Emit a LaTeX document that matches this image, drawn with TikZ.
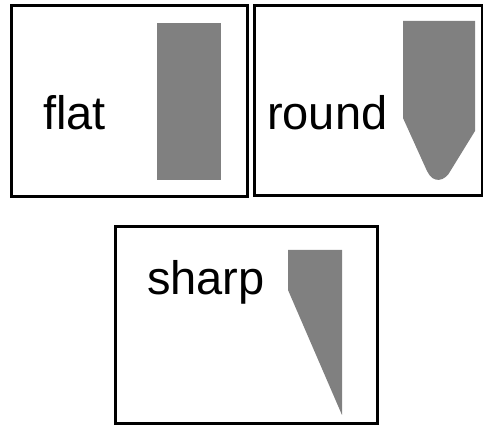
\documentclass[tikz,border=0pt]{standalone}
\usepackage{fontspec}
\setmainfont{Liberation Sans}
\usetikzlibrary{positioning}
\definecolor{tipgrey}{HTML}{808080}
\tikzset{
  panel/.style={draw=black, line width=2.6pt},
  tiplabel/.style={anchor=base west, inner sep=0pt, font=\fontsize{47}{50}\selectfont},
  tipshape/.style={fill=tipgrey, draw=none},
}

\begin{document}
\begin{tikzpicture}[x=1pt, y=-1pt]
\useasboundingbox (0,0) rectangle (483,425);
% three panels
\node[panel, minimum width=236pt, minimum height=191pt, anchor=north west] (flatbox) at (10,4) {};
\node[panel, minimum width=228pt, minimum height=190pt, anchor=north west] (roundbox) at (253,4) {};
\node[panel, minimum width=262pt, minimum height=197pt, anchor=north west] (sharpbox) at (114,225) {};
% labels
\node[tiplabel] (flat) at (43,130) {flat};
\node[tiplabel] (round) at (267,130) {round};
\node[tiplabel] (sharp) at (147,295) {sharp};
% tip shapes
\fill[tipshape] (157,23) rectangle (221,180);
\fill[tipshape] (403,21) -- (475,21) -- (475,131) -- (451,170)
  .. controls (445,182) and (433,184) .. (427,171) -- (403,118) -- cycle;
\fill[tipshape] (288,250) -- (342,250) -- (342,415) -- (288,290) -- cycle;
\end{tikzpicture}
\end{document}
